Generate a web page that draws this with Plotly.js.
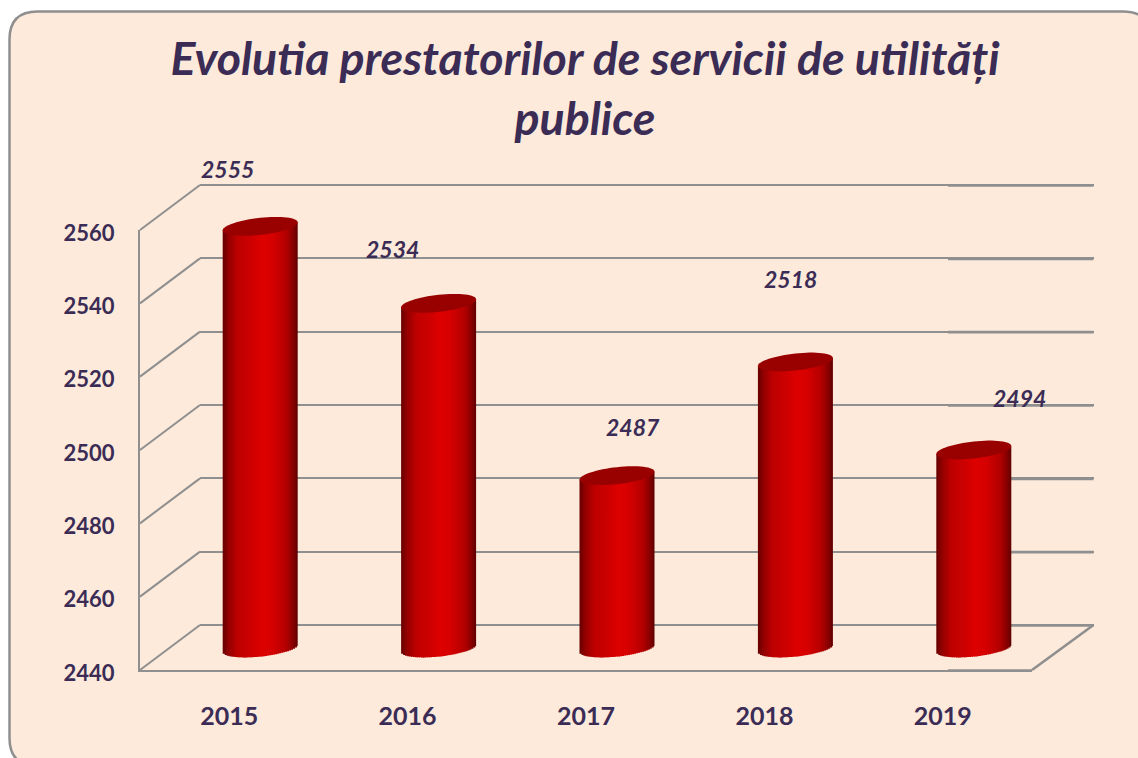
<!DOCTYPE html>
<html>
<head>
<meta charset="utf-8">
<script src="https://cdn.plot.ly/plotly-3.0.1.min.js"></script>
<style>html,body{margin:0;padding:0;background:#fff;overflow:hidden}</style>
</head>
<body>
<div id="chart" style="width:1138px;height:758px"></div>
<script>
// ---- data ----
const years = ["2015", "2016", "2017", "2018", "2019"];
const values = [2555, 2534, 2487, 2518, 2494];
const yTicks = [2440, 2460, 2480, 2500, 2520, 2540, 2560];
const titleText = "Evolutia prestatorilor de servicii de utilități<br>publice";
const labelShiftX = [-2, -15, 47, 26, 77];
const labelPixelY = [169, 249, 427, 279, 398];

// ---- style / geometry ----
const W = 1138, H = 758;
const ink = "#3b2c55", grey = "#8f8f8f", peach = "#fdeadb";
const font = "Lato, Carlito, 'Open Sans', sans-serif";
const px = v => v / W, py = v => 1 - v / H;
const front = {l: 140, r: 1032, b: 670, t: 230};
const depth = {x: 60, y: 45};
const backRight = 1093.5;
const yMin = 2440, yMax = 2560, pxPerUnit = (front.b - front.t) / (yMax - yMin);
const bar = {shiftX: 31, floorY: 648, halfW: 37.5, tilt: 4, minor: 8.5, strips: 38};
const slot = (front.r - front.l) / years.length;
const xIdx = years.map((_, i) => i);
const xRange = [-0.5, years.length - 0.5];
const barLow = 2420, barHigh = 2570;
const gridLow = 2430, gridHigh = 2570;

function lerp(a, b, f) { return a.map((v, i) => Math.round(v + (b[i] - v) * f)); }
function stripColor(u) {
  const stops = [[0, [100, 0, 0]], [0.07, [145, 0, 0]], [0.2, [190, 0, 0]], [0.38, [205, 0, 0]], [0.52, [222, 0, 0]], [0.66, [214, 0, 0]], [0.85, [178, 0, 0]], [0.95, [130, 0, 0]], [1, [92, 0, 0]]];
  for (let i = 1; i < stops.length; i++) {
    if (u <= stops[i][0]) {
      const c = lerp(stops[i - 1][1], stops[i][1], (u - stops[i - 1][0]) / (stops[i][0] - stops[i - 1][0]));
      return `rgb(${c[0]},${c[1]},${c[2]})`;
    }
  }
  return "rgb(92,0,0)";
}

// ---- traces ----
const traces = [];
// main axes carry the tick labels
traces.push({type: "scatter", mode: "none", x: xIdx, y: yTicks.slice(0, 5), xaxis: "x", yaxis: "y", hoverinfo: "skip", showlegend: false});
// back wall carries the grid
traces.push({type: "scatter", mode: "none", x: xIdx, y: yTicks.slice(0, 5), xaxis: "x2", yaxis: "y2", hoverinfo: "skip", showlegend: false});
// cylinders are built from thin vertical bars with a curved base; each overlaps the next
const stepPx = 2 * bar.halfW / bar.strips;
for (let s = 0; s < bar.strips; s++) {
  const t0 = -1 + 2 * s / bar.strips, tm = t0 + 1 / bar.strips;
  const floorUnits = (bar.tilt * tm - bar.minor * Math.sqrt(Math.max(0, 1 - tm * tm))) / pxPerUnit;
  const topUnits = bar.tilt * tm / pxPerUnit;
  const base = yMin + floorUnits;
  const wPx = s === bar.strips - 1 ? stepPx : stepPx + 1.2;
  traces.push({
    type: "bar", xaxis: "x3", yaxis: "y3", x: xIdx,
    y: values.map(v => v + topUnits - base),
    base: values.map(() => base),
    width: wPx / slot,
    offset: t0 * bar.halfW / slot,
    marker: {color: stripColor((tm + 1) / 2), line: {width: 0}},
    hoverinfo: "skip", showlegend: false
  });
}

// ---- shapes ----
const shapes = [];
// rounded panel
const pl = 9.5, pt = 11.5, pr = 1151, pb = 766, rad = 28;
shapes.push({
  type: "path", xref: "paper", yref: "paper", layer: "below",
  path: `M ${px(pl + rad)} ${py(pt)} L ${px(pr - rad)} ${py(pt)} Q ${px(pr)} ${py(pt)} ${px(pr)} ${py(pt + rad)} L ${px(pr)} ${py(pb - rad)} Q ${px(pr)} ${py(pb)} ${px(pr - rad)} ${py(pb)} L ${px(pl + rad)} ${py(pb)} Q ${px(pl)} ${py(pb)} ${px(pl)} ${py(pb - rad)} L ${px(pl)} ${py(pt + rad)} Q ${px(pl)} ${py(pt)} ${px(pl + rad)} ${py(pt)} Z`,
  fillcolor: peach, line: {color: grey, width: 2.5}
});
function seg(x0, y0, x1, y1, w) {
  shapes.push({type: "line", xref: "paper", yref: "paper", layer: "below", x0: px(x0), y0: py(y0), x1: px(x1), y1: py(y1), line: {color: grey, width: w}});
}
yTicks.forEach(v => {
  const yp = front.b - (v - yMin) * pxPerUnit;
  seg(front.l, yp, front.l + depth.x, yp - depth.y, 2);              // side wall
  seg(948, yp - depth.y + 0.5, backRight, yp - depth.y + 0.5, 2.6);  // heavier right end
});
seg(front.r, front.b, backRight, front.b - depth.y, 2.6);            // floor edge
seg(948, front.b + 0.5, front.r, front.b + 0.5, 2.6);

// cylinder tops
values.forEach((v, i) => {
  const pts = [];
  for (let k = 0; k < 64; k++) {
    const a = 2 * Math.PI * k / 64;
    const dx = Math.cos(a) * bar.halfW / slot;
    const dy = (Math.cos(a) * bar.tilt + Math.sin(a) * bar.minor) / pxPerUnit;
    pts.push((k ? "L " : "M ") + (i + dx) + " " + (v + dy));
  }
  shapes.push({type: "path", xref: "x3", yref: "y3", layer: "above", path: pts.join(" ") + " Z", fillcolor: "#990000", line: {width: 0}});
});

// ---- value labels ----
const annotations = values.map((v, i) => ({
  xref: "x", yref: "paper", x: i, y: py(labelPixelY[i]), xshift: labelShiftX[i],
  text: String(v), showarrow: false, xanchor: "center", yanchor: "middle",
  font: {family: font, size: 23, color: ink, weight: 700, style: "italic"}
}));

// ---- layout ----
const layout = {
  width: W, height: H,
  margin: {l: 0, r: 0, t: 0, b: 0},
  paper_bgcolor: "#ffffff", plot_bgcolor: "rgba(0,0,0,0)",
  showlegend: false, barmode: "overlay",
  title: {
    text: titleText, x: 585 / W, xanchor: "center", xref: "paper",
    y: 1 - 75 / H, yref: "container", yanchor: "middle",
    font: {family: font, size: 46.5, color: ink, weight: 700, style: "italic"}
  },
  xaxis: {
    domain: [px(front.l), px(front.r)], range: xRange, anchor: "y",
    tickmode: "array", tickvals: xIdx, ticktext: years,
    showgrid: false, zeroline: false, showline: true, linecolor: grey, linewidth: 2,
    ticks: "", ticklabelstandoff: 23,
    tickfont: {family: font, size: 25, color: ink, weight: 700}
  },
  yaxis: {
    domain: [py(front.b), py(front.t)], range: [yMin, yMax], anchor: "x",
    tickmode: "array", tickvals: yTicks,
    showgrid: false, zeroline: false, showline: true, linecolor: grey, linewidth: 2,
    ticks: "", ticklabelstandoff: 19, ticklabelshift: 3,
    tickfont: {family: font, size: 22, color: ink, weight: 700}
  },
  xaxis2: {
    domain: [px(front.l + depth.x), px(backRight)], range: xRange, anchor: "y2",
    showgrid: false, zeroline: false, showticklabels: false, ticks: "", showline: false
  },
  yaxis2: {
    domain: [py(front.b - depth.y + (yMin - gridLow) * pxPerUnit), py(front.t - depth.y - (gridHigh - yMax) * pxPerUnit)],
    range: [gridLow, gridHigh], anchor: "x2",
    tickmode: "array", tickvals: yTicks, showticklabels: false, ticks: "",
    showgrid: true, gridcolor: grey, gridwidth: 2, zeroline: false
  },
  xaxis3: {
    domain: [px(front.l + bar.shiftX), px(front.r + bar.shiftX)], range: xRange, anchor: "y3",
    visible: false
  },
  yaxis3: {
    domain: [py(bar.floorY + (yMin - barLow) * pxPerUnit), py(bar.floorY - (barHigh - yMin) * pxPerUnit)],
    range: [barLow, barHigh], anchor: "x3", visible: false
  },
  shapes, annotations
};

Plotly.newPlot("chart", traces, layout, {displayModeBar: false, staticPlot: true});
</script>
</body>
</html>
